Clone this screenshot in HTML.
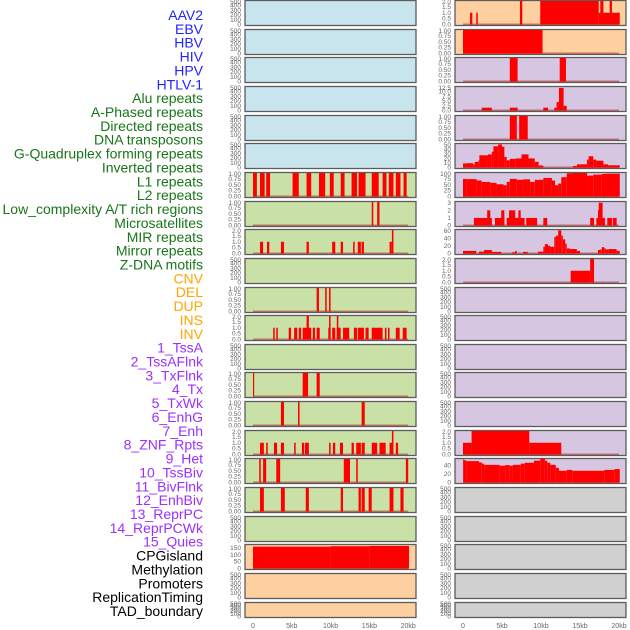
<!DOCTYPE html>
<html><head><meta charset="utf-8"><style>
html,body{margin:0;padding:0;background:#fff;}
svg{display:block;font-family:"Liberation Sans",sans-serif;}
</style></head><body>
<svg id="chart" width="630" height="630" viewBox="0 0 630 630" xmlns="http://www.w3.org/2000/svg"></svg>
<script>
// ---- category labels ----
const labelTexts = ["AAV2","EBV","HBV","HIV","HPV","HTLV-1","Alu repeats","A-Phased repeats","Directed repeats","DNA transposons","G-Quadruplex forming repeats","Inverted repeats","L1 repeats","L2 repeats","Low_complexity A/T rich regions","Microsatellites","MIR repeats","Mirror repeats","Z-DNA motifs","CNV","DEL","DUP","INS","INV","1_TssA","2_TssAFlnk","3_TxFlnk","4_Tx","5_TxWk","6_EnhG","7_Enh","8_ZNF_Rpts","9_Het","10_TssBiv","11_BivFlnk","12_EnhBiv","13_ReprPC","14_ReprPCWk","15_Quies","CPGisland","Methylation","Promoters","ReplicationTiming","TAD_boundary"];
const labelGroups = ["v","v","v","v","v","v","r","r","r","r","r","r","r","r","r","r","r","r","r","s","s","s","s","s","c","c","c","c","c","c","c","c","c","c","c","c","c","c","c","k","k","k","k","k"];
const xTicks = [0,5,10,15,20];
const xTickLabels = ["0","5kb","10kb","15kb","20kb"];
const ticks500 = [500,400,300,200,100,0];
const ticks1 = [1,0.75,0.5,0.25,0];
const ticks2 = [2,1.5,1,0.5,0];

// ---- left column series: [start kb, end kb, value] ----
const segL6 = [[0,0.5,1],[0.9,1.5,1],[1.7,2.2,1],[5.1,5.9,1],[6.9,7.5,1],[8.5,9.3,1],[9.9,10.4,1],[11.3,11.8,1],[12.7,13.4,1],[13.6,14.5,1],[15.3,16.2,1],[16.7,17.2,1],[17.5,18.1,1],[18.4,19.0,1],[19.4,19.8,1]];
const segL7 = [[15.3,15.5,1],[16.0,16.3,1]];
const segL8 = [[0.9,1.3,1],[1.8,2.1,1],[3.6,4.0,1],[6.9,7.2,1],[10.2,10.6,1],[11.3,11.6,1],[12.9,13.1,1],[13.5,13.9,1],[14.0,14.3,1],[17.6,17.9,1],[17.9,18.1,2]];
const segL10 = [[8.2,8.5,1],[9.3,9.5,1],[9.8,10.0,1]];
const segL11 = [[2.6,2.8,1],[3.0,3.2,1],[4.6,4.9,1],[5.3,5.7,1],[5.9,6.2,1],[6.4,7.5,1],[6.9,7.2,2],[7.7,8.0,1],[8.2,8.6,1],[9.7,10.0,1],[9.8,10.0,2],[10.2,10.6,1],[10.8,11.3,1],[10.8,11.0,2],[11.6,12.4,1],[13.0,13.4,1],[13.5,14.3,1],[14.5,14.9,1],[15.3,16.7,1],[17.0,17.2,1],[17.4,17.6,1],[18.4,18.9,1],[19.3,19.8,1]];
const segL13 = [[0,0.15,1],[6.4,7.1,1],[8.2,8.6,1]];
const segL14 = [[3.6,4.0,1],[5.8,6.0,1],[14.0,14.4,1]];
const segL15 = [[0.9,1.4,1],[1.7,1.9,1],[2.7,3.1,1],[3.6,4.0,1],[5.3,5.5,1],[6.3,6.6,1],[6.7,7.2,1],[9.8,10.0,1],[10.3,10.6,1],[11.2,11.6,1],[12.7,13.0,1],[13.3,13.9,1],[14.0,14.4,1],[15.3,16.0,1],[16.3,17.1,1],[17.6,18.0,1],[17.9,18.1,2],[18.4,18.7,1]];
const segL16 = [[0.8,1.0,1],[1.3,1.7,1],[3.0,3.5,1],[11.7,12.5,1],[13.3,13.5,1],[19.7,20.0,1]];
const segL17 = [[0.9,1.4,1],[3.6,4.1,1],[6.8,7.2,1],[11.3,11.6,1],[13.6,13.9,1],[14.0,14.4,1],[14.9,15.3,1],[17.6,18.1,1],[19.0,19.4,1]];
const segL19 = [[0,10,160],[10,15,163],[15,20.1,165]];

// ---- right column series ----
const segR0 = [[0.9,1.2,1],[1.7,1.9,1],[7.3,7.6,2],[9.9,17.4,2],[17.4,20.1,1],[17.6,18.0,2],[18.8,19.1,2]];
const segR1 = [[0,10.2,1]];
const segR2 = [[6.0,7.0,1],[12.4,13.2,1]];
const segR3 = [[2.4,3.7,1.5],[6.0,7.0,1.5],[10.3,10.9,1.5],[11.7,12.0,1.5],[12.0,12.3,4.5],[12.3,12.9,12],[12.9,13.3,2.5]];
const segR4 = [[6.0,6.9,1],[7.2,8.3,1]];
const segR5 = [[0,0.47,9],[0.47,1.3,9.5],[1.3,1.5,7],[1.5,2.0,12.5],[2.0,2.1,16],[2.1,3.2,27],[3.2,3.7,29],[3.7,3.9,35],[3.9,4.5,47],[4.5,5.0,51],[5.0,5.3,46],[5.3,5.6,23.5],[5.6,6.0,16],[6.0,6.7,19],[6.7,7.5,20],[7.5,8.4,29],[8.4,9.2,20],[9.2,9.7,12.5],[9.7,10.3,4.5],[14.1,14.6,3.5],[14.6,15.9,7],[15.9,16.1,17.5],[16.1,16.7,25],[16.7,17.1,17.5],[17.1,18.0,15],[18.0,18.6,7],[18.6,20.1,5]];
const segR6 = [[0,0.47,75],[0.47,1.75,74],[1.75,2.4,68],[2.4,3.5,62],[3.5,4.3,58],[4.3,5.2,52],[5.2,5.6,48],[5.6,6.0,62],[6.0,6.9,75],[6.9,7.7,71],[7.7,8.6,73],[8.6,9.2,62],[9.2,10.3,71],[10.3,11.4,79],[11.4,11.8,68],[11.8,12.2,48],[12.2,12.6,55],[12.6,13.3,82],[13.3,14.1,99],[14.1,15.9,100],[15.9,16.7,89],[16.7,17.8,93],[17.8,18.4,96],[18.4,20.1,97]];
const segR7 = [[1.4,3.7,1],[3.1,3.5,2],[4.1,5.3,1],[4.9,5.3,2],[5.6,7.9,1],[5.9,6.7,2],[7.1,7.4,2],[8.1,9.5,1],[10.3,10.8,1],[16.3,16.8,1],[17.1,18.2,1],[17.3,17.7,2],[17.4,17.9,3],[18.5,19.1,1],[19.2,19.7,1]];
const segR8 = [[0,1.7,7],[2.05,2.7,5],[2.7,3.7,9.4],[3.7,4.9,4.3],[6.3,6.8,3.4],[6.7,6.9,7],[7.7,8.3,4.3],[9.6,10.3,5],[10.3,10.5,18],[10.5,10.9,25],[10.9,11.2,20.6],[11.2,11.7,18],[11.7,11.9,44],[11.9,12.2,48],[12.2,12.6,62],[12.6,12.8,48],[12.8,13.1,38],[13.1,13.3,26.6],[13.3,13.7,13.7],[13.7,14.6,12],[14.6,15.0,7],[17.3,17.6,9.4],[17.6,17.8,11],[17.8,18.1,17],[18.1,18.3,13.7],[18.3,18.7,11],[18.7,19.7,12],[19.7,20.1,7]];
const segR9 = [[13.8,16.3,1],[16.3,16.8,2]];
const segR15 = [[0,1.1,1],[1.1,8.5,2],[8.5,12.6,1]];
const segR16 = [[0,0.1,55],[0.1,0.4,53],[0.4,2.05,51],[2.05,2.4,48],[2.4,2.7,45],[2.7,4.7,42],[4.7,5.4,40],[5.4,6.0,41.5],[6.0,6.4,40],[6.4,7.4,42],[7.4,7.9,45],[7.9,9.1,47],[9.1,9.9,52],[9.9,10.5,57],[10.5,10.8,52],[10.8,11.2,47],[11.2,11.9,42],[11.9,12.3,35],[12.3,13.3,28],[13.3,14.0,30],[14.0,18.1,28],[18.1,19.4,30],[19.4,20.1,32]];

const BLUE="#c8e4ec", GREEN="#c9e1a6", ORANGE="#fecf9f", PURPLE="#d6c6e1", GREY="#d0d0d0";
const panels = [];
function P(col,row,bg,ymax,ticks,tl,seg){panels.push({col,row,bg,ymax,ticks,tl,seg});}
for(let r=0;r<6;r++) P(0,r,BLUE,500,ticks500,null,null);
P(0,6,GREEN,1,ticks1,null,segL6);
P(0,7,GREEN,1,ticks1,null,segL7);
P(0,8,GREEN,2,ticks2,null,segL8);
P(0,9,GREEN,500,ticks500,null,null);
P(0,10,GREEN,1,ticks1,null,segL10);
P(0,11,GREEN,2,ticks2,null,segL11);
P(0,12,GREEN,500,ticks500,null,null);
P(0,13,GREEN,1,ticks1,null,segL13);
P(0,14,GREEN,1,ticks1,null,segL14);
P(0,15,GREEN,2,ticks2,null,segL15);
P(0,16,GREEN,1,ticks1,null,segL16);
P(0,17,GREEN,1,ticks1,null,segL17);
P(0,18,GREEN,500,ticks500,null,null);
P(0,19,ORANGE,172,[150,100,50,0],null,segL19);
P(0,20,ORANGE,500,ticks500,null,null);
P(0,21,ORANGE,500,ticks500,null,null);
P(1,0,ORANGE,2,ticks2,null,segR0);
P(1,1,ORANGE,1,ticks1,null,segR1);
P(1,2,PURPLE,1,ticks1,null,segR2);
P(1,3,PURPLE,12.5,[12.5,10,7.5,5,2.5,0],null,segR3);
P(1,4,PURPLE,1,ticks1,null,segR4);
P(1,5,PURPLE,52,[50,40,30,20,10,0],null,segR5);
P(1,6,PURPLE,100,[100,75,50,25,0],null,segR6);
P(1,7,PURPLE,3.1,[3,2,1,0],null,segR7);
P(1,8,PURPLE,63,[60,40,20,0],null,segR8);
P(1,9,PURPLE,2,ticks2,null,segR9);
for(let r=10;r<15;r++) P(1,r,PURPLE,500,ticks500,null,null);
P(1,15,PURPLE,2,ticks2,null,segR15);
P(1,16,PURPLE,56,[40,20,0],null,segR16);
for(let r=17;r<22;r++) P(1,r,GREY,500,ticks500,null,null);

const NS="http://www.w3.org/2000/svg";
const svg=document.getElementById('chart');
function el(tag,attrs,parent){const e=document.createElementNS(NS,tag);for(const k in attrs)e.setAttribute(k,attrs[k]);(parent||svg).appendChild(e);return e;}
const colX=[245,455], panelW=171, zeroPx=[253,463], pxPerKb=[7.76,7.8];
function xScale(col,kb){return zeroPx[col]+kb*pxPerKb[col];}
function rowTop(r){return Math.round(r*28.65);}
function rowH(r){return r===21?15:25;}
function fmt(v,ticks){
  if(ticks===ticks1) return v.toFixed(2);
  if(ticks===ticks2||ticks[0]===12.5) return v.toFixed(1);
  return String(v);
}
panels.forEach(p=>{
  const g=el('g',{});
  
  
  const x0=colX[p.col], y0=rowTop(p.row), h=rowH(p.row);
  const bg=el('rect',{x:x0,y:y0+0.5,width:panelW,height:h,fill:p.bg,stroke:'#5c5c5c','stroke-width':1.3},g);
  
  
  const yS=v=>y0+h-0.5-(v/p.ymax)*(h-1.5);
  if(p.seg){
    el('rect',{x:xScale(p.col,0),y:y0+h-1.5,width:xScale(p.col,20)-xScale(p.col,0),height:1.6,fill:'rgba(170,40,40,0.55)'},g);
    p.seg.forEach(s=>{
      const b=el('rect',{x:xScale(p.col,s[0]),y:yS(s[2]),width:Math.max(0.8,xScale(p.col,s[1])-xScale(p.col,s[0])),height:(y0+h-0.5)-yS(s[2]),fill:'#ff0000'},g);
      
      
    });
  }
  p.ticks.forEach(t=>{
    const ty=Math.min(Math.max(yS(t),y0+2),y0+h)+2;
    const tx=el('text',{x:x0-4,y:ty,'text-anchor':'end','font-size':6.5,fill:'#666'},g);
    tx.textContent=fmt(t,p.ticks);
    
    
  });
});
// x axis
[0,1].forEach(col=>{
  xTicks.forEach((t,i)=>{
    const tx=el('text',{x:xScale(col,t),y:628,'text-anchor':'middle','font-size':7,fill:'#666'});
    tx.textContent=xTickLabels[i];
    
    
  });
});
// labels
const groupColor={v:'#2323ff',r:'#197519',s:'#ffa500',c:'#9b30ff',k:'#000'};
const n=labelTexts.length;
const step=(611-15)/(n-1);
labelTexts.forEach((t,i)=>{
  const tx=el('text',{x:203,y:15+i*step+5,'text-anchor':'end','font-size':14,fill:groupColor[labelGroups[i]]});
  tx.textContent=t;
  
  
});
</script>
</body></html>
